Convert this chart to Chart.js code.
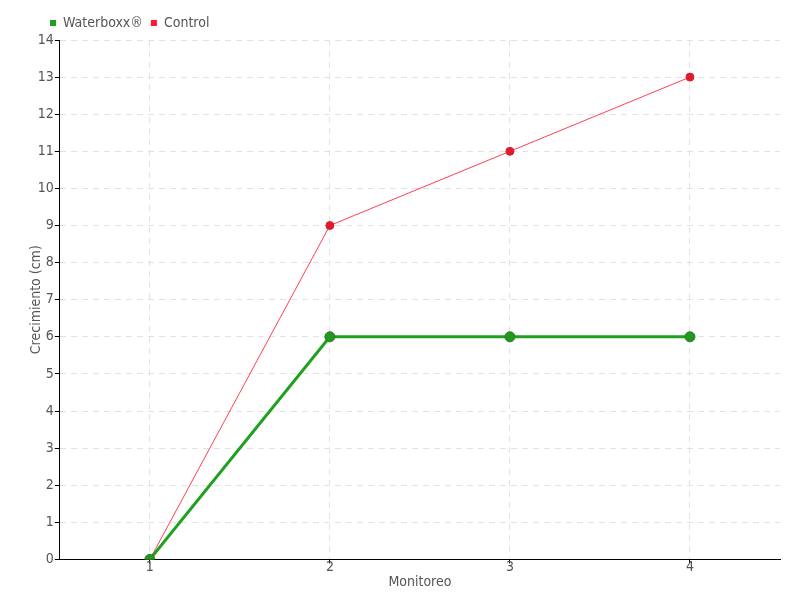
<!DOCTYPE html>
<html>
<head>
<meta charset="utf-8">
<script src="https://cdn.jsdelivr.net/npm/chart.js@4/dist/chart.umd.min.js"></script>
<style>
  html, body { margin: 0; padding: 0; background: #fff; }
  #wrap { width: 800px; height: 600px; }
</style>
</head>
<body>
<div id="wrap"><canvas id="chart" width="800" height="600"></canvas></div>
<script>
const monitoreo = ['1', '2', '3', '4'];
const waterboxx = [0, 6, 6, 6];
const control = [0, 9, 11, 13];

const fontFamily = "'DejaVu Sans Condensed', 'DejaVu Sans', sans-serif";
const textColor = '#555';

// 범례를 오른쪽으로 옮김
const shiftLegend = {
  id: 'shiftLegend',
  afterLayout(chart) {
    chart.legend.left += 14;
    chart.legend.right += 14;
  }
};

const ctx = document.getElementById('chart').getContext('2d');
new Chart(ctx, {
  type: 'line',
  data: {
    labels: monitoreo,
    datasets: [
      {
        label: 'Waterboxx®',
        data: waterboxx,
        borderColor: '#1fa01f',
        backgroundColor: '#1f9a1f',
        pointBorderColor: '#2a7a2a',
        pointBorderWidth: 1,
        borderWidth: 3,
        pointRadius: 5,
        pointStyle: 'circle',
        tension: 0
      },
      {
        label: 'Control',
        data: control,
        borderColor: '#ff4050',
        backgroundColor: '#e01c2c',
        pointBorderColor: '#e01c2c',
        pointBorderWidth: 1,
        borderWidth: 1,
        pointRadius: 4,
        pointStyle: 'circle',
        tension: 0
      }
    ]
  },
  options: {
    responsive: false,
    animation: false,
    layout: { padding: { left: 28, right: 20, top: 8, bottom: 9 } },
    plugins: {
      legend: {
        display: true,
        position: 'top',
        align: 'start',
        labels: {
          usePointStyle: true,
          pointStyle: 'rect',
          boxWidth: 6,
          boxHeight: 6,
          padding: 8,
          color: textColor,
          font: { family: fontFamily, size: 14 },
          generateLabels(chart) {
            return chart.data.datasets.map((ds, i) => ({
              text: ds.label,
              fillStyle: i === 0 ? '#1fa01f' : '#ff1a30',
              strokeStyle: i === 0 ? '#1fa01f' : '#ff1a30',
              lineWidth: 0,
              pointStyle: 'rect',
              fontColor: textColor,
              datasetIndex: i
            }));
          }
        }
      },
      tooltip: { enabled: false }
    },
    scales: {
      x: {
        offset: true,
        grid: {
          offset: false,
          color: '#e2e2e2',
          tickColor: '#000',
          tickLength: 4,
          tickBorderDash: []
        },
        border: { color: '#000', width: 1, dash: [6, 5] },
        ticks: { color: textColor, font: { family: fontFamily, size: 14 }, padding: -4 },
        title: {
          display: true,
          text: 'Monitoreo',
          color: textColor,
          font: { family: fontFamily, size: 14 },
          padding: { top: 2, bottom: 0 }
        }
      },
      y: {
        min: 0,
        max: 14,
        ticks: {
          stepSize: 1,
          color: textColor,
          font: { family: fontFamily, size: 14 },
          padding: 1
        },
        grid: {
          color: '#e2e2e2',
          tickColor: '#000',
          tickLength: 5,
          tickBorderDash: []
        },
        border: { color: '#000', width: 1, dash: [6, 5] },
        title: {
          display: true,
          text: 'Crecimiento (cm)',
          color: textColor,
          font: { family: fontFamily, size: 14 },
          padding: { top: 0, bottom: -8 }
        }
      }
    }
  },
  plugins: [shiftLegend]
});
</script>
</body>
</html>
